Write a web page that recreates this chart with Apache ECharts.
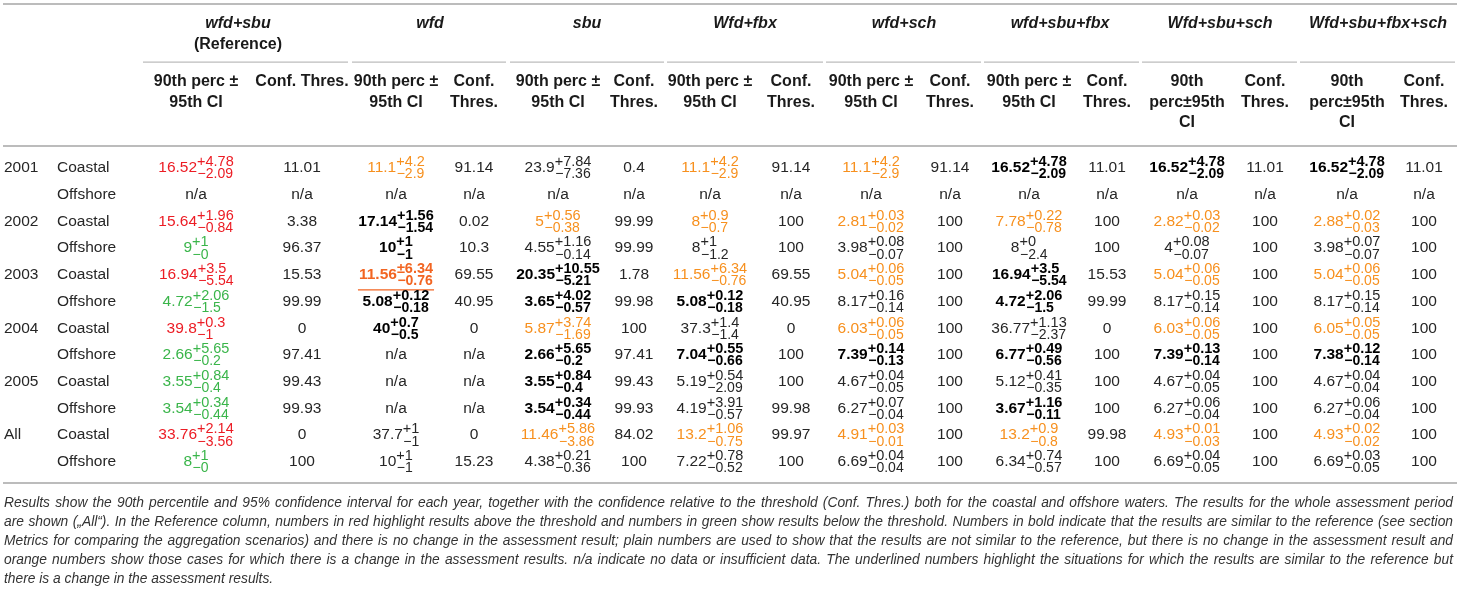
<!DOCTYPE html>
<html><head><meta charset="utf-8">
<script src="https://cdn.jsdelivr.net/npm/echarts@6/dist/echarts.min.js"></script>
<style>html,body{margin:0;padding:0;background:#fff}#c{width:1460px;height:592px}</style>
</head><body><div id="c"></div>
<script>
// ---------------- DATA ----------------
const rowKeys = ['2001 Coastal','2001 Offshore','2002 Coastal','2002 Offshore','2003 Coastal','2003 Offshore','2004 Coastal','2004 Offshore','2005 Coastal','2005 Offshore','All Coastal','All Offshore'];
const years = ['2001','','2002','','2003','','2004','','2005','','All',''];
const regions = ['Coastal','Offshore','Coastal','Offshore','Coastal','Offshore','Coastal','Offshore','Coastal','Offshore','Coastal','Offshore'];
const scenarioTitles = ['wfd+sbu','wfd','sbu','Wfd+fbx','wfd+sch','wfd+sbu+fbx','Wfd+sbu+sch','Wfd+sbu+fbx+sch'];
const scenarioSubtitle = ['(Reference)','','','','','','',''];
const percHeader = [['90th perc ±','95th CI'],['90th perc ±','95th CI'],['90th perc ±','95th CI'],['90th perc ±','95th CI'],['90th perc ±','95th CI'],['90th perc ±','95th CI'],['90th','perc±95th','CI'],['90th','perc±95th','CI']];
const confHeader = [['Conf. Thres.'],['Conf.','Thres.'],['Conf.','Thres.'],['Conf.','Thres.'],['Conf.','Thres.'],['Conf.','Thres.'],['Conf.','Thres.'],['Conf.','Thres.']];

// value "main|upper|lower"; style: r red, g green, o orange, b bold, u bold+orange+underlined, n plain
const perc_wfdSbu = ['16.52|+4.78|−2.09','n/a','15.64|+1.96|−0.84','9|+1|−0','16.94|+3.5|−5.54','4.72|+2.06|−1.5','39.8|+0.3|−1','2.66|+5.65|−0.2','3.55|+0.84|−0.4','3.54|+0.34|−0.44','33.76|+2.14|−3.56','8|+1|−0'];
const conf_wfdSbu = ['11.01','n/a','3.38','96.37','15.53','99.99','0','97.41','99.43','99.93','0','100'];
const style_wfdSbu = ['r','n','r','g','r','g','r','g','g','g','r','g'];

const perc_wfd = ['11.1|+4.2|−2.9','n/a','17.14|+1.56|−1.54','10|+1|−1','11.56|±6.34|−0.76','5.08|+0.12|−0.18','40|+0.7|−0.5','n/a','n/a','n/a','37.7|+1|−1','10|+1|−1'];
const conf_wfd = ['91.14','n/a','0.02','10.3','69.55','40.95','0','n/a','n/a','n/a','0','15.23'];
const style_wfd = ['o','n','b','b','u','b','b','n','n','n','n','n'];

const perc_sbu = ['23.9|+7.84|−7.36','n/a','5|+0.56|−0.38','4.55|+1.16|−0.14','20.35|+10.55|−5.21','3.65|+4.02|−0.57','5.87|+3.74|−1.69','2.66|+5.65|−0.2','3.55|+0.84|−0.4','3.54|+0.34|−0.44','11.46|+5.86|−3.86','4.38|+0.21|−0.36'];
const conf_sbu = ['0.4','n/a','99.99','99.99','1.78','99.98','100','97.41','99.43','99.93','84.02','100'];
const style_sbu = ['n','n','o','n','b','b','o','b','b','b','o','n'];

const perc_wfdFbx = ['11.1|+4.2|−2.9','n/a','8|+0.9|−0.7','8|+1|−1.2','11.56|+6.34|−0.76','5.08|+0.12|−0.18','37.3|+1.4|−1.4','7.04|+0.55|−0.66','5.19|+0.54|−2.09','4.19|+3.91|−0.57','13.2|+1.06|−0.75','7.22|+0.78|−0.52'];
const conf_wfdFbx = ['91.14','n/a','100','100','69.55','40.95','0','100','100','99.98','99.97','100'];
const style_wfdFbx = ['o','n','o','n','o','b','n','b','n','n','o','n'];

const perc_wfdSch = ['11.1|+4.2|−2.9','n/a','2.81|+0.03|−0.02','3.98|+0.08|−0.07','5.04|+0.06|−0.05','8.17|+0.16|−0.14','6.03|+0.06|−0.05','7.39|+0.14|−0.13','4.67|+0.04|−0.05','6.27|+0.07|−0.04','4.91|+0.03|−0.01','6.69|+0.04|−0.04'];
const conf_wfdSch = ['91.14','n/a','100','100','100','100','100','100','100','100','100','100'];
const style_wfdSch = ['o','n','o','n','o','n','o','b','n','n','o','n'];

const perc_wfdSbuFbx = ['16.52|+4.78|−2.09','n/a','7.78|+0.22|−0.78','8|+0|−2.4','16.94|+3.5|−5.54','4.72|+2.06|−1.5','36.77|+1.13|−2.37','6.77|+0.49|−0.56','5.12|+0.41|−0.35','3.67|+1.16|−0.11','13.2|+0.9|−0.8','6.34|+0.74|−0.57'];
const conf_wfdSbuFbx = ['11.01','n/a','100','100','15.53','99.99','0','100','100','100','99.98','100'];
const style_wfdSbuFbx = ['b','n','o','n','b','b','n','b','n','b','o','n'];

const perc_wfdSbuSch = ['16.52|+4.78|−2.09','n/a','2.82|+0.03|−0.02','4|+0.08|−0.07','5.04|+0.06|−0.05','8.17|+0.15|−0.14','6.03|+0.06|−0.05','7.39|+0.13|−0.14','4.67|+0.04|−0.05','6.27|+0.06|−0.04','4.93|+0.01|−0.03','6.69|+0.04|−0.05'];
const conf_wfdSbuSch = ['11.01','n/a','100','100','100','100','100','100','100','100','100','100'];
const style_wfdSbuSch = ['b','n','o','n','o','n','o','b','n','n','o','n'];

const perc_wfdSbuFbxSch = ['16.52|+4.78|−2.09','n/a','2.88|+0.02|−0.03','3.98|+0.07|−0.07','5.04|+0.06|−0.05','8.17|+0.15|−0.14','6.05|+0.05|−0.05','7.38|+0.12|−0.14','4.67|+0.04|−0.04','6.27|+0.06|−0.04','4.93|+0.02|−0.02','6.69|+0.03|−0.05'];
const conf_wfdSbuFbxSch = ['11.01','n/a','100','100','100','100','100','100','100','100','100','100'];
const style_wfdSbuFbxSch = ['b','n','o','n','o','n','o','b','n','n','o','n'];

const captionLines = [
 'Results show the 90th percentile and 95% confidence interval for each year, together with the confidence relative to the threshold (Conf. Thres.) both for the coastal and offshore waters. The results for the whole assessment period',
 'are shown („All“). In the Reference column, numbers in red highlight results above the threshold and numbers in green show results below the threshold. Numbers in bold indicate that the results are similar to the reference (see section',
 'Metrics for comparing the aggregation scenarios) and there is no change in the assessment result; plain numbers are used to show that the results are not similar to the reference, but there is no change in the assessment result and',
 'orange numbers show those cases for which there is a change in the assessment results. n/a indicate no data or insufficient data. The underlined numbers highlight the situations for which the results are similar to the reference but',
 'there is a change in the assessment results.'
];

// ---------------- LAYOUT ----------------
const FAM = '"Liberation Sans", Arial, sans-serif';
const COL = {n:'#262626', b:'#000000', r:'#ec1c24', g:'#3ab54a', o:'#f7901e', u:'#f26522'};
const LINE = '#bcbcbc';
const SZ = {main: 15.5, sup: 14.5, sub: 14, head: 16};
const layout = {
  yearX: 4, regionX: 57,
  percX: [196, 396, 558, 710, 871, 1029, 1187, 1347],
  confX: [302, 474, 634, 791, 950, 1107, 1265, 1424],
  titleX: [238, 430, 587, 745, 904, 1060, 1220, 1378],
  spans: [[143,348],[352,506],[510,664],[667,823],[826,981],[984,1139],[1142,1297],[1300,1455]],
  titleY: [24, 45], subY: [82, 103, 123],
  topLine: 3, headLine: 145, bottomLine: 482, capY0: 503, capDy: 19, capL: 4, capR: 1453
};

const scen = [
 [perc_wfdSbu, conf_wfdSbu, style_wfdSbu],
 [perc_wfd, conf_wfd, style_wfd],
 [perc_sbu, conf_sbu, style_sbu],
 [perc_wfdFbx, conf_wfdFbx, style_wfdFbx],
 [perc_wfdSch, conf_wfdSch, style_wfdSch],
 [perc_wfdSbuFbx, conf_wfdSbuFbx, style_wfdSbuFbx],
 [perc_wfdSbuSch, conf_wfdSbuSch, style_wfdSbuSch],
 [perc_wfdSbuFbxSch, conf_wfdSbuFbxSch, style_wfdSbuFbxSch]
];

const ctx = document.createElement('canvas').getContext('2d');
function tw(t, font){ ctx.font = font; return ctx.measureText(t).width; }

const cells = [];
rowKeys.forEach((k, r) => {
  cells.push({x: layout.yearX, row: r, text: years[r], align: 'left', kind: 'plain'});
  cells.push({x: layout.regionX, row: r, text: regions[r], align: 'left', kind: 'plain'});
  scen.forEach((s, g) => {
    cells.push({x: layout.percX[g], row: r, text: s[0][r], style: s[2][r], kind: 'perc'});
    cells.push({x: layout.confX[g], row: r, text: s[1][r], kind: 'plain'});
  });
});

function txt(text, x, y, font, fill, align){
  return {type:'text', style:{text:text, x:x, y:y, font:font, fill:fill,
    align:align||'center', textAlign:align||'center', verticalAlign:'middle', textVerticalAlign:'middle'}};
}

function renderItem(params, api){
  const c = cells[api.value(2)];
  const p = api.coord([api.value(0), api.value(1)]);
  const cx = p[0], cy = p[1];
  const F = SZ.main + 'px ' + FAM;
  if (c.kind !== 'perc' || c.text.indexOf('|') < 0) {
    return txt(c.text, cx, cy, F, COL.n, c.align || 'center');
  }
  const parts = c.text.split('|');
  const bold = c.style === 'b' || c.style === 'u';
  const B = bold ? 'bold ' : '';
  const fM = B + SZ.main + 'px ' + FAM;
  const fP = B + SZ.sup + 'px ' + FAM;
  const fS = B + SZ.sub + 'px ' + FAM;
  const wM = tw(parts[0], fM);
  const wS = Math.max(tw(parts[1], fP), tw(parts[2], fS));
  const x0 = cx - (wM + wS) / 2;
  const fill = COL[c.style];
  const children = [
    txt(parts[0], x0, cy, fM, fill, 'left'),
    txt(parts[1], x0 + wM, cy - 5.8, fP, fill, 'left'),
    txt(parts[2], x0 + wM + 0.5, cy + 6.6, fS, fill, 'left')
  ];
  if (c.style === 'u') {
    children.push({type:'rect', shape:{x: x0 - 1, y: cy + 14.5, width: wM + wS + 2, height: 1.2}, style:{fill: COL.u}});
  }
  return {type:'group', children: children};
}

// header + lines + caption as graphic elements
const graphics = [];
function hline(y, x1, x2, h){ graphics.push({type:'rect', shape:{x:x1, y:y, width:x2-x1, height:h}, style:{fill:LINE}, silent:true}); }
hline(layout.topLine, 3, 1457, 2);
hline(layout.headLine, 3, 1457, 2);
hline(layout.bottomLine, 3, 1457, 2);
layout.spans.forEach(s => hline(61.5, s[0], s[1], 1.3));
const HB = 'bold ' + SZ.head + 'px ' + FAM, HI = 'italic bold ' + SZ.head + 'px ' + FAM;
scenarioTitles.forEach((t, g) => {
  graphics.push(txt(t, layout.titleX[g], layout.titleY[0], HI, '#1a1a1a'));
  if (scenarioSubtitle[g]) graphics.push(txt(scenarioSubtitle[g], layout.titleX[g], layout.titleY[1], HB, '#1a1a1a'));
  percHeader[g].forEach((t2, i) => graphics.push(txt(t2, layout.percX[g], layout.subY[i], HB, '#1a1a1a')));
  confHeader[g].forEach((t2, i) => graphics.push(txt(t2, layout.confX[g], layout.subY[i], HB, '#1a1a1a')));
});
// caption: pick the largest size where the justified lines still fit, then justify word by word
const avail = layout.capR - layout.capL;
let capSize = 15;
captionLines.slice(0, -1).forEach(l => {
  const w = tw(l, 'italic 13px ' + FAM);
  capSize = Math.min(capSize, 13 * avail * 0.985 / w);
});
capSize = Math.floor(capSize * 10) / 10;
const CF = 'italic ' + capSize + 'px ' + FAM;
captionLines.forEach((line, li) => {
  const y = layout.capY0 + li * layout.capDy;
  const words = line.split(' ');
  const ws = words.map(w => tw(w, CF));
  const sum = ws.reduce((a, b) => a + b, 0);
  const last = li === captionLines.length - 1;
  const gap = last ? tw(' ', CF) : (avail - sum) / (words.length - 1);
  let x = layout.capL;
  words.forEach((w, i) => {
    graphics.push(txt(w, x, y, CF, '#333333', 'left'));
    x += ws[i] + gap;
  });
});

const chart = echarts.init(document.getElementById('c'), null, {renderer:'canvas'});
chart.setOption({
  animation: false,
  grid: {left: 0, right: 0, top: 154.6, bottom: 116.7},
  xAxis: {type:'value', min:0, max:1460, show:false},
  yAxis: {type:'category', data: rowKeys, inverse:true, show:false},
  graphic: {elements: graphics},
  series: [{
    type:'custom', clip:false, silent:true,
    encode:{x:0, y:1},
    renderItem: renderItem,
    data: cells.map((c, i) => [c.x, c.row, i])
  }]
});
</script></body></html>
